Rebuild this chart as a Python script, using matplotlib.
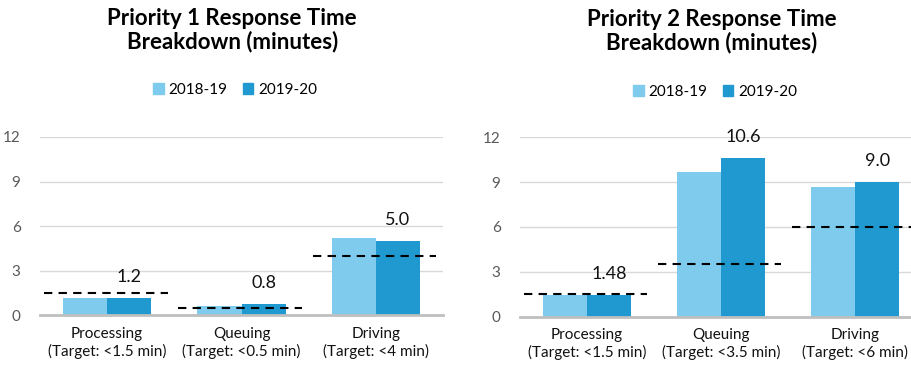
import matplotlib
matplotlib.use("Agg")
import matplotlib.pyplot as plt
import numpy as np

plt.rcParams['font.family'] = ['Lato', 'DejaVu Sans']

categories = ["Processing", "Queuing", "Driving"]
p1_targets_lbl = ["(Target: <1.5 min)", "(Target: <0.5 min)", "(Target: <4 min)"]
p2_targets_lbl = ["(Target: <1.5 min)", "(Target: <3.5 min)", "(Target: <6 min)"]
series = ["2018-19", "2019-20"]

p1_2018 = [1.2, 0.65, 5.2]
p1_2019 = [1.2, 0.8, 5.0]
p1_target = [1.5, 0.5, 4.0]
p1_labels = ["1.2", "0.8", "5.0"]

p2_2018 = [1.48, 9.7, 8.7]
p2_2019 = [1.48, 10.6, 9.0]
p2_target = [1.5, 3.5, 6.0]
p2_labels = ["1.48", "10.6", "9.0"]

yticks = [0, 3, 6, 9, 12]

c_light = "#7ECBEE"
c_dark = "#1F99CF"

fig = plt.figure(figsize=(9.11, 3.66), dpi=100)

def draw(ax, v1, v2, tgt, lbls, tlbls):
    x = np.arange(len(categories))
    w = 0.33
    ax.bar(x - w/2, v1, w, color=c_light, zorder=3)
    ax.bar(x + w/2, v2, w, color=c_dark, zorder=3)
    for i in x:
        ax.hlines(tgt[i], i - 0.47, i + 0.45, colors="black", linestyles=(0, (4, 3)), lw=1.5, zorder=4)
        ax.text(i + w/2, v2[i] + 1.4, lbls[i], ha="center", va="center", fontsize=13, color="#111111")
    ax.set_xlim(-0.5, 2.5)
    ax.set_ylim(0, 12)
    ax.set_yticks(yticks)
    ax.yaxis.grid(True, color="#D9D9D9", lw=1, zorder=0)
    ax.set_axisbelow(True)
    for s in ["top", "right", "left"]:
        ax.spines[s].set_visible(False)
    ax.spines["bottom"].set_color("#BFBFBF")
    ax.spines["bottom"].set_linewidth(2)
    ax.spines["bottom"].set_zorder(5)
    ax.tick_params(axis="both", length=0)
    ax.tick_params(axis="y", labelsize=11, labelcolor="#595959", pad=14)
    ax.set_xticks(x)
    ax.set_xticklabels([f"{c}\n{t}" for c, t in zip(categories, tlbls)], fontsize=11, color="#111111", linespacing=1.25)
    ax.tick_params(axis="x", pad=8)

ax1 = fig.add_axes([0.0439, 0.138, 0.4424, 0.4877])
draw(ax1, p1_2018, p1_2019, p1_target, p1_labels, p1_targets_lbl)
ax2 = fig.add_axes([0.5708, 0.1347, 0.4413, 0.4902])
draw(ax2, p2_2018, p2_2019, p2_target, p2_labels, p2_targets_lbl)

fig.text(0.255, 0.918, "Priority 1 Response Time\nBreakdown (minutes)", ha="center", va="center",
         fontsize=16, fontweight="bold", linespacing=1.1)
fig.text(0.781, 0.915, "Priority 2 Response Time\nBreakdown (minutes)", ha="center", va="center",
         fontsize=16, fontweight="bold", linespacing=1.1)

from matplotlib.patches import Patch
handles = [Patch(color=c_light, label=series[0]), Patch(color=c_dark, label=series[1])]
for cx, cy in [(0.258, 0.754), (0.785, 0.749)]:
    fig.legend(handles=handles, loc="center", bbox_to_anchor=(cx, cy), ncol=2, frameon=False,
               fontsize=11, handlelength=0.7, handleheight=0.7, handletextpad=0.3, columnspacing=1.0)

fig.savefig("out.png", dpi=100)
